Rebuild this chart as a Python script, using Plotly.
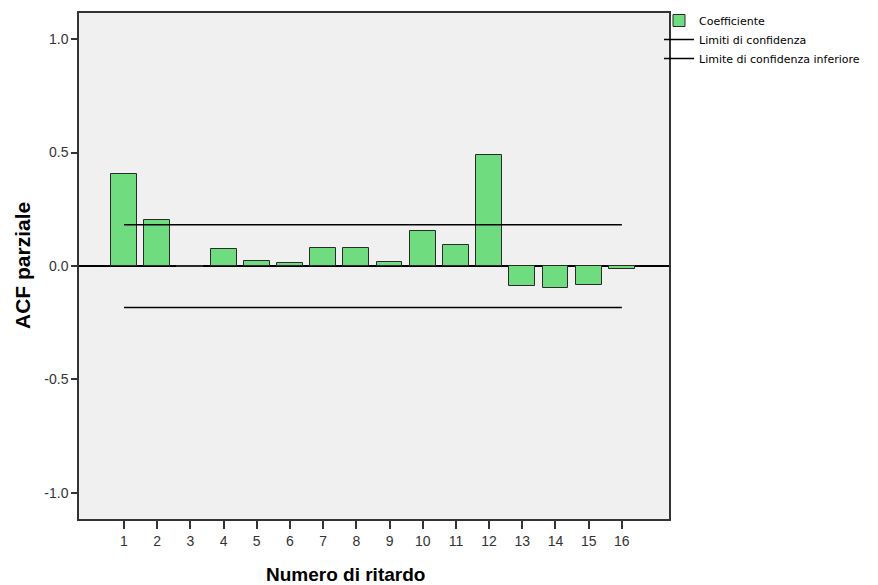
import plotly.graph_objects as go

lags = list(range(1, 17))
pacf = [0.404, 0.204, -0.004, 0.074, 0.021, 0.012, 0.078, 0.078,
        0.018, 0.153, 0.091, 0.491, -0.088, -0.097, -0.084, -0.012]
limit_x = [1, 16]
upper_limit = [0.182, 0.182]
lower_limit = [-0.183, -0.183]
y_ticks = [-1.0, -0.5, 0.0, 0.5, 1.0]
y_tick_labels = ["-1.0", "-0.5", "0.0", "0.5", "1.0"]

# page body has an 8px default margin; figure sized to fit the window
W, H = 870, 577
ML, MR, MT, MB = 71, 209, 5, 66
PW = W - ML - MR
PH = H - MT - MB

fig = go.Figure()
fig.add_trace(go.Bar(
    x=lags, y=pacf, name="Coefficiente", width=0.78,
    marker=dict(color="#70DC80", line=dict(color="#2a2a2a", width=1)),
))
fig.add_trace(go.Scatter(
    x=limit_x, y=upper_limit, mode="lines", name="Limiti di confidenza",
    line=dict(color="black", width=1.5),
))
fig.add_trace(go.Scatter(
    x=limit_x, y=lower_limit, mode="lines", name="Limite di confidenza inferiore",
    line=dict(color="black", width=1.5),
))

fig.update_layout(
    width=W, height=H,
    margin=dict(l=ML, r=MR, t=MT, b=MB, autoexpand=False),
    paper_bgcolor="white", plot_bgcolor="#F0F0F0",
    font=dict(family="Liberation Sans, Arial, sans-serif", color="#222"),
    showlegend=True,
    legend=dict(x=(651 - ML) / PW, y=1 + (MT + 2) / PH, xanchor="left", yanchor="top",
                xref="paper", yref="paper",
                font=dict(size=11, color="black", family="DejaVu Sans, sans-serif"),
                tracegroupgap=0, bgcolor="rgba(0,0,0,0)", itemwidth=30),
    bargap=0,
    annotations=[
        dict(text="<b>Numero di ritardo</b>", xref="paper", yref="paper",
             x=(337 - ML) / PW, y=-(566 - MT - PH) / PH, xanchor="center", yanchor="middle",
             showarrow=False, font=dict(size=19, color="black")),
        dict(text="<b>ACF parziale</b>", xref="paper", yref="paper",
             x=(14 - ML) / PW, y=(MT + PH - 258) / PH, xanchor="center", yanchor="middle",
             textangle=-90, showarrow=False, font=dict(size=21, color="black")),
    ],
)
fig.update_xaxes(
    range=[-0.355, 17.42], tickmode="array", tickvals=lags,
    ticktext=[str(v) for v in lags],
    ticks="outside", ticklen=8, tickcolor="#333", tickwidth=1.5,
    tickfont=dict(size=14, color="#333"),
    showline=True, linecolor="#333", linewidth=1.5, mirror=True,
    showgrid=False, zeroline=False, automargin=False,
)
fig.update_yaxes(
    range=[-1.115, 1.115], tickmode="array", tickvals=y_ticks,
    ticktext=y_tick_labels,
    ticks="outside", ticklen=6, tickcolor="#333", tickwidth=1.5,
    tickfont=dict(size=14, color="#333"),
    showline=True, linecolor="#333", linewidth=1.5, mirror=True,
    showgrid=False, zeroline=True, zerolinecolor="black", zerolinewidth=1.5,
    automargin=False,
)

fig.write_html("out.html")
